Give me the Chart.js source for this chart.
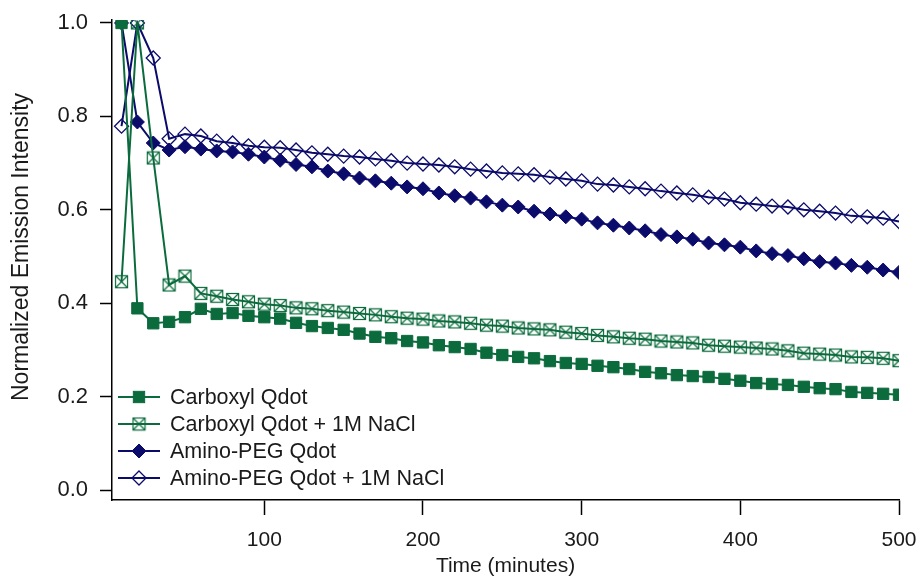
<!DOCTYPE html>
<html>
<head>
<meta charset="utf-8">
<title>Qdot emission</title>
<script src="https://cdn.jsdelivr.net/npm/chart.js@4/dist/chart.umd.min.js"></script>
<style>
  html, body { margin: 0; padding: 0; background: #fff; }
  #wrap { width: 917px; height: 577px; }
</style>
</head>
<body>
<div id="wrap"><canvas id="qdotChart" width="917" height="577"></canvas></div>
<script>
// time points (minutes)
const times = [10, 20, 30, 40, 50, 60, 70, 80, 90, 100,
  110, 120, 130, 140, 150, 160, 170, 180, 190, 200,
  210, 220, 230, 240, 250, 260, 270, 280, 290, 300,
  310, 320, 330, 340, 350, 360, 370, 380, 390, 400,
  410, 420, 430, 440, 450, 460, 470, 480, 490, 500];

const carboxyl = [1.0, 0.389, 0.357, 0.360, 0.370, 0.388, 0.377, 0.379, 0.373, 0.370,
  0.367, 0.358, 0.351, 0.347, 0.343, 0.335, 0.328, 0.325, 0.319, 0.316,
  0.310, 0.306, 0.302, 0.294, 0.289, 0.285, 0.282, 0.276, 0.272, 0.270,
  0.266, 0.263, 0.259, 0.253, 0.250, 0.246, 0.244, 0.242, 0.238, 0.234,
  0.229, 0.227, 0.225, 0.221, 0.218, 0.216, 0.210, 0.208, 0.206, 0.204];

const carboxylNaCl = [0.446, 1.0, 0.711, 0.439, 0.458, 0.421, 0.415, 0.408, 0.403, 0.398,
  0.395, 0.390, 0.388, 0.384, 0.381, 0.378, 0.375, 0.371, 0.368, 0.366,
  0.362, 0.360, 0.357, 0.353, 0.351, 0.347, 0.345, 0.343, 0.338, 0.335,
  0.331, 0.328, 0.325, 0.323, 0.319, 0.317, 0.315, 0.310, 0.308, 0.306,
  0.304, 0.302, 0.298, 0.293, 0.291, 0.289, 0.285, 0.284, 0.282, 0.277];

const aminoPeg = [1.0, 0.788, 0.743, 0.728, 0.735, 0.730, 0.726, 0.724, 0.719, 0.713,
  0.706, 0.697, 0.692, 0.683, 0.677, 0.668, 0.662, 0.657, 0.649, 0.645,
  0.636, 0.630, 0.625, 0.617, 0.610, 0.606, 0.597, 0.591, 0.585, 0.580,
  0.572, 0.567, 0.561, 0.555, 0.547, 0.542, 0.537, 0.529, 0.525, 0.520,
  0.512, 0.506, 0.502, 0.495, 0.489, 0.486, 0.481, 0.477, 0.471, 0.466];

const aminoPegNaCl = [0.779, 1.0, 0.925, 0.752, 0.762, 0.758, 0.747, 0.743, 0.737, 0.734,
  0.733, 0.728, 0.722, 0.719, 0.715, 0.713, 0.709, 0.705, 0.700, 0.698,
  0.696, 0.692, 0.687, 0.683, 0.679, 0.677, 0.675, 0.670, 0.666, 0.662,
  0.655, 0.653, 0.649, 0.645, 0.640, 0.636, 0.632, 0.627, 0.623, 0.615,
  0.612, 0.608, 0.606, 0.600, 0.597, 0.593, 0.587, 0.585, 0.582, 0.575];

const seriesNames = ["Carboxyl Qdot", "Carboxyl Qdot + 1M NaCl", "Amino-PEG Qdot", "Amino-PEG Qdot + 1M NaCl"];
const xTicks = [100, 200, 300, 400, 500];
const yTicks = [0.0, 0.2, 0.4, 0.6, 0.8, 1.0];

const GREEN = "#0b6b3c";
const NAVY = "#0b0b6b";
const INK = "#1a1a1a";
const FONT = "'Liberation Sans', Arial, Helvetica, sans-serif";

Chart.defaults.font.family = FONT;
Chart.defaults.color = INK;

// open square with an X through it
function crossSquare(color){
    const c = document.createElement("canvas");
    c.width = 15;
    c.height = 15;
    const g = c.getContext("2d");
    g.strokeStyle = color;
    g.lineWidth = 1.2;
    g.strokeRect(1.5, 1.5, 12, 12);
    g.beginPath();
    g.moveTo(1.5, 1.5); g.lineTo(13.5, 13.5);
    g.moveTo(13.5, 1.5); g.lineTo(1.5, 13.5);
    g.stroke();
    return c;
}

const xSquare = crossSquare(GREEN);

function pairs(ys){
    return times.map((t, i) => ({x: t, y: ys[i]}));
}

const markers = [
    {pointStyle: "rect", pointRadius: 8, fill: GREEN, border: GREEN, bw: 1},
    {pointStyle: xSquare, pointRadius: 7.5, fill: "rgba(0,0,0,0)", border: GREEN, bw: 1},
    {pointStyle: "rectRot", pointRadius: 7, fill: NAVY, border: NAVY, bw: 1},
    {pointStyle: "rectRot", pointRadius: 7, fill: "rgba(0,0,0,0)", border: NAVY, bw: 1.3}
];
const lineColors = [GREEN, GREEN, NAVY, NAVY];
const allSeries = [carboxyl, carboxylNaCl, aminoPeg, aminoPegNaCl];

const datasets = allSeries.map((ys, i) => ({
    label: seriesNames[i],
    data: pairs(ys),
    borderColor: lineColors[i],
    borderWidth: 2,
    backgroundColor: markers[i].fill,
    pointStyle: markers[i].pointStyle,
    pointRadius: markers[i].pointRadius,
    pointHoverRadius: markers[i].pointRadius,
    pointBackgroundColor: markers[i].fill,
    pointBorderColor: markers[i].border,
    pointBorderWidth: markers[i].bw,
    tension: 0,
    fill: false
}));

function drawMarker(ctx, i, x, y){
    const m = markers[i];
    ctx.save();
    ctx.fillStyle = m.fill;
    ctx.strokeStyle = m.border;
    ctx.lineWidth = m.bw;
    if (m.pointStyle === "rect"){
        const s = m.pointRadius * Math.SQRT1_2;
        ctx.fillRect(x - s, y - s, 2 * s, 2 * s);
        ctx.strokeRect(x - s, y - s, 2 * s, 2 * s);
    } else if (m.pointStyle === "rectRot"){
        const r = m.pointRadius;
        ctx.beginPath();
        ctx.moveTo(x, y - r);
        ctx.lineTo(x + r, y);
        ctx.lineTo(x, y + r);
        ctx.lineTo(x - r, y);
        ctx.closePath();
        ctx.fill();
        ctx.stroke();
    } else {
        const img = m.pointStyle;
        ctx.drawImage(img, x - img.width / 2, y - img.height / 2);
    }
    ctx.restore();
}

// legend in the lower left of the plot, line + marker per row
const plotLegend = {
    id: "plotLegend",
    afterDatasetsDraw(chart){
        const ctx = chart.ctx;
        const x0 = 118, x1 = 160, textX = 170;
        const top = 397, step = 27;
        ctx.save();
        ctx.font = "21.5px " + FONT;
        ctx.textBaseline = "middle";
        ctx.textAlign = "left";
        chart.data.datasets.forEach((ds, i) => {
            const y = top + i * step;
            ctx.strokeStyle = lineColors[i];
            ctx.lineWidth = 2;
            ctx.beginPath();
            ctx.moveTo(x0, y);
            ctx.lineTo(x1, y);
            ctx.stroke();
            drawMarker(ctx, i, (x0 + x1) / 2, y);
            ctx.fillStyle = INK;
            ctx.fillText(ds.label, textX, y + 1);
        });
        ctx.restore();
    }
};

// rotated y title
const yTitle = {
    id: "yTitle",
    afterDraw(chart){
        const ctx = chart.ctx;
        ctx.save();
        ctx.translate(22, 247);
        ctx.rotate(-Math.PI / 2);
        ctx.font = "23px " + FONT;
        ctx.fillStyle = INK;
        ctx.textAlign = "center";
        ctx.textBaseline = "middle";
        ctx.fillText("Normalized Emission Intensity", 0, 0);
        ctx.restore();
    }
};

new Chart(document.getElementById("qdotChart"), {
    type: "line",
    data: {datasets: datasets},
    options: {
        responsive: false,
        animation: false,
        devicePixelRatio: 1,
        layout: {padding: {top: 20, right: 18, left: 0, bottom: 0}},
        plugins: {
            legend: {display: false},
            tooltip: {enabled: false}
        },
        scales: {
            x: {
                type: "linear",
                min: 4,
                max: 500,
                afterBuildTicks: s => { s.ticks = xTicks.map(v => ({value: v})); },
                afterFit: s => { s.height = 77; s.paddingLeft = 0; s.paddingRight = 0; },
                border: {color: "#000", width: 1.5},
                grid: {drawOnChartArea: false, drawTicks: true, tickLength: 15, tickWidth: 1.5, color: "#000"},
                ticks: {font: {size: 21}, padding: 13, color: INK, maxRotation: 0},
                title: {display: true, text: "Time (minutes)", font: {size: 21, lineHeight: 1}, padding: 0, color: INK}
            },
            y: {
                min: -0.0214,
                max: 1.0064,
                afterBuildTicks: s => { s.ticks = yTicks.map(v => ({value: v})); },
                afterFit: s => { s.width = 112; s.paddingTop = 0; s.paddingBottom = 0; },
                border: {color: "#000", width: 1.5},
                grid: {drawOnChartArea: false, drawTicks: true, tickLength: 12, tickWidth: 1.5, color: "#000"},
                ticks: {font: {size: 22}, padding: 12, color: INK, callback: v => v.toFixed(1)}
            }
        }
    },
    plugins: [plotLegend, yTitle]
});
</script>
</body>
</html>
